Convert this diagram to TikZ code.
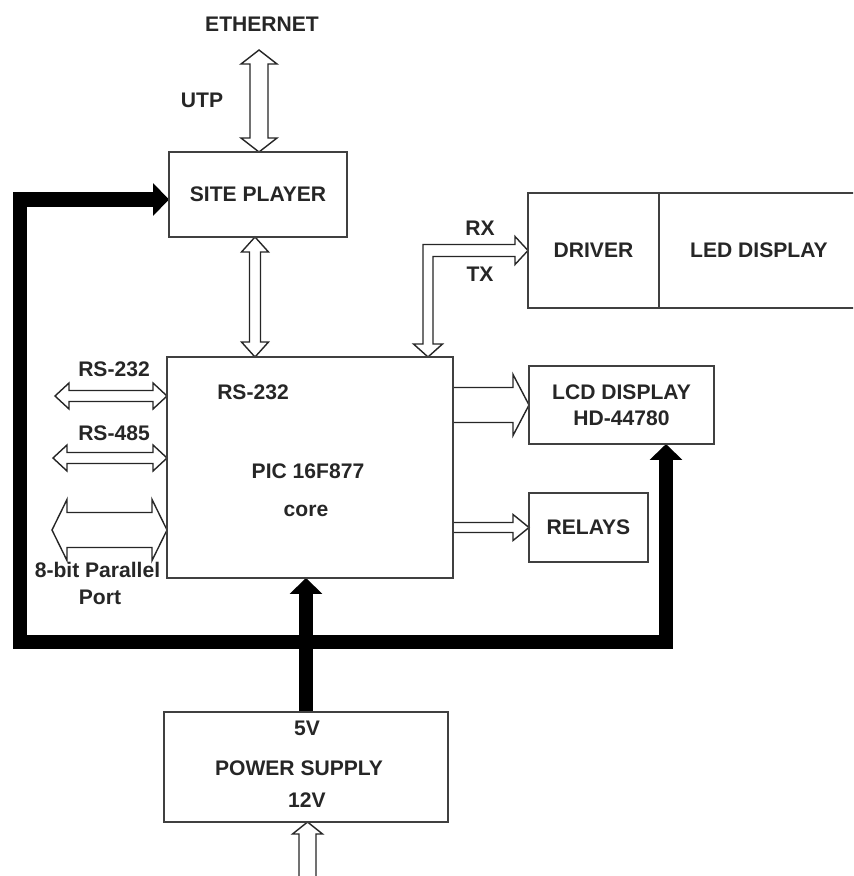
\documentclass[tikz,border=0pt]{standalone}
\usepackage{fontspec}
\setmainfont{Liberation Sans}
\usepackage{tikz}
\usetikzlibrary{arrows.meta, calc, positioning, backgrounds}
% hollow block arrows: tips, shaft half width, head half width, head length
\newcommand{\twowayV}[5]{%
  \draw[hollow] (#1) -- ($(#1)+(#4,#5)$) -- ($(#1)+(#3,#5)$) -- ($(#2)+(#3,-#5)$) -- ($(#2)+(#4,-#5)$) -- (#2)
    -- ($(#2)+(-#4,-#5)$) -- ($(#2)+(-#3,-#5)$) -- ($(#1)+(-#3,#5)$) -- ($(#1)+(-#4,#5)$) -- cycle;}
\newcommand{\twowayH}[5]{%
  \draw[hollow] (#1) -- ($(#1)+(#5,-#4)$) -- ($(#1)+(#5,-#3)$) -- ($(#2)+(-#5,-#3)$) -- ($(#2)+(-#5,-#4)$) -- (#2)
    -- ($(#2)+(-#5,#4)$) -- ($(#2)+(-#5,#3)$) -- ($(#1)+(#5,#3)$) -- ($(#1)+(#5,#4)$) -- cycle;}
\newcommand{\onewayH}[5]{%
  \draw[hollow] ($(#1)+(0,-#3)$) -- ($(#2)+(-#5,-#3)$) -- ($(#2)+(-#5,-#4)$) -- (#2)
    -- ($(#2)+(-#5,#4)$) -- ($(#2)+(-#5,#3)$) -- ($(#1)+(0,#3)$);}
\newcommand{\onewayUp}[5]{%
  \draw[hollow] ($(#1)+(-#3,0)$) -- ($(#2)+(-#3,#5)$) -- ($(#2)+(-#4,#5)$) -- (#2)
    -- ($(#2)+(#4,#5)$) -- ($(#2)+(#3,#5)$) -- ($(#1)+(#3,0)$);}

\begin{document}
\begin{tikzpicture}[
  x=0.02cm, y=-0.02cm,
  every node/.style={align=center, text=black!85, font=\bfseries\fontsize{12}{14}\selectfont},
  block/.style={rectangle, draw=black!75, line width=0.9pt, inner sep=0pt, outer sep=0pt},
  hollow/.style={draw=black!85, line width=0.8pt, fill=white, line join=miter},
  bus/.style={black, line width=8.5pt, line join=miter, >={Triangle[length=9pt, width=18pt]}}
]
\clip (0,0) rectangle (853,876);

% blocks
\node[block, minimum width=3.56cm, minimum height=1.70cm] (site) at (258,194.5) {SITE PLAYER};
\node[block, minimum width=5.72cm, minimum height=4.42cm] (pic)  at (310,467.5) {};
\node[block, minimum width=2.62cm, minimum height=2.30cm] (drv)  at (593.5,250.5) {DRIVER};
\node[block, minimum width=4.00cm, minimum height=2.30cm, right=0pt of drv] (led) {LED DISPLAY};
\node[block, minimum width=3.70cm, minimum height=1.56cm] (lcd)  at (621.5,405) {LCD DISPLAY\\[1pt]HD-44780};
\node[block, minimum width=2.38cm, minimum height=1.38cm] (rel)  at (588.5,527.5) {RELAYS};
\node[block, minimum width=5.68cm, minimum height=2.20cm] (ps)   at (306,767) {};

% texts
\node (eth)     at (262,24)   {ETHERNET};
\node (utp)     at (202,100)  {UTP};
\node (rx)      at (480,228)  {RX};
\node (tx)      at (480,274)  {TX};
\node (picrs)   at (253,392)  {RS-232};
\node (picname) at (308,471)  {PIC 16F877};
\node (core)    at (306,511)  {core};
\node (lrs232)  at (114,369)  {RS-232};
\node (lrs485)  at (114,433)  {RS-485};
\node (lpar)    at (97.5,570) {8-bit Parallel};
\node (lport)   at (100,597)  {Port};
\node (v5)      at (307,728)  {5V};
\node (psname)  at (299,768)  {POWER SUPPLY};
\node (v12)     at (307,800)  {12V};

% anchor points
\coordinate (utptop) at (259,50);
\coordinate (utpbot) at (utptop |- site.north);
\coordinate (spt) at ($(site.south)+(-3,0)$);
\coordinate (spb) at (spt |- pic.north);
\coordinate (r232) at (55,396);
\coordinate (r232e) at (r232 -| pic.west);
\coordinate (r485) at (53,458);
\coordinate (r485e) at (r485 -| pic.west);
\coordinate (par) at (52,530);
\coordinate (pare) at (par -| pic.west);
\coordinate (lcdtail) at (lcd.west -| pic.east);
\coordinate (reltail) at (rel.west -| pic.east);
\coordinate (rxtx) at (428,357);
\coordinate (psin) at (307.5,890);
\coordinate (pstip) at (psin |- ps.south);
\coordinate (lcdin) at (666,444);
\coordinate (corner) at (20,642);
\coordinate (sitein) at ($(site.west)+(0,5)$);

\begin{scope}[on background layer]
\twowayV{utptop}{utpbot}{9}{18}{14}
\twowayV{spt}{spb}{5.5}{13.5}{15}
\twowayH{r232}{r232e}{5.5}{13}{14}
\twowayH{r485}{r485e}{5.5}{13}{14}
\twowayH{par}{pare}{17.5}{30.5}{15}
\onewayH{lcdtail}{lcd.west}{17.5}{30.5}{16}
\onewayH{reltail}{rel.west}{5}{13}{16}
\onewayUp{psin}{pstip}{8.5}{15}{12}
% RX / TX
\draw[hollow] (drv.west) -- ++(-13,-14) -- ++(0,8) -- ($(rxtx |- drv.west)+(-5,-6)$) -- ($(rxtx)+(-5,-13)$)
  -- ++(-9.5,0) -- (rxtx) -- ($(rxtx)+(14.5,-13)$) -- ++(-9.5,0) -- ($(rxtx |- drv.west)+(5,6)$)
  -- ($(drv.west)+(-13,6)$) -- ++(0,8) -- cycle;
% supply bus
\draw[bus, <->] (lcdin) |- (corner) |- (sitein);
\draw[bus, ->] (ps.north) -- (ps.north |- pic.south);
\end{scope}
\end{tikzpicture}
\end{document}
